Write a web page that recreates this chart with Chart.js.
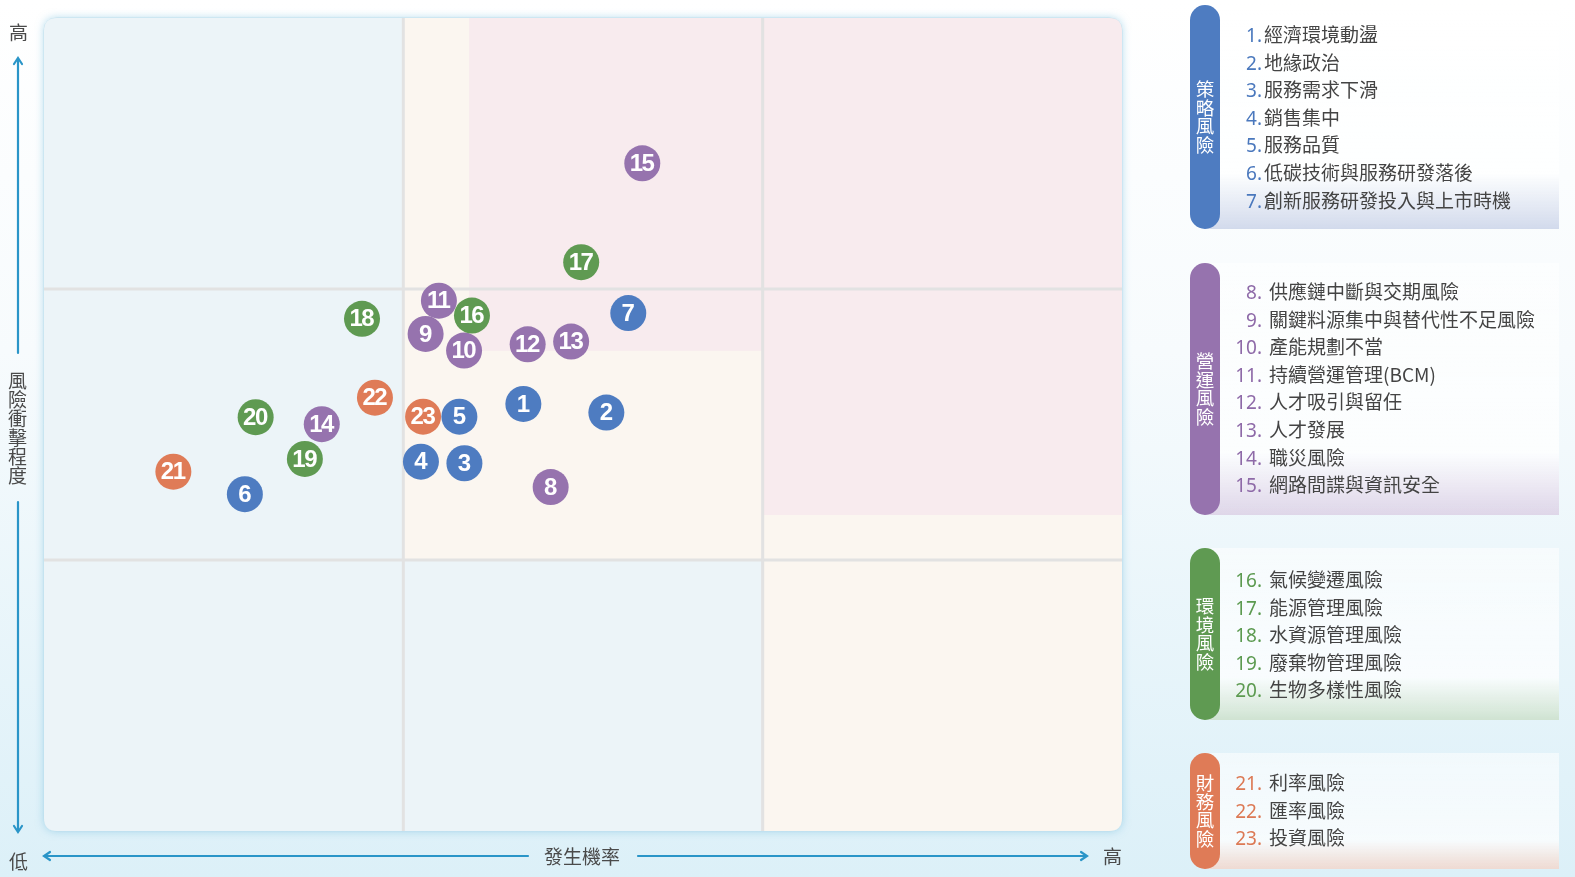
<!DOCTYPE html>
<html>
<head>
<meta charset="utf-8">
<script src="https://cdn.jsdelivr.net/npm/chart.js@4.4.1/dist/chart.umd.min.js"></script>
<style>
html,body{margin:0;padding:0;width:1575px;height:877px;overflow:hidden}
body{position:relative;background:linear-gradient(180deg,#ffffff 0%,#f7fbfd 40%,#dcf0f8 100%);font-family:"Noto Sans CJK TC","Noto Sans",sans-serif;color:#444}
#c{position:absolute;left:0;top:0}
.ax{position:absolute;font-size:19px;color:#4a4a4a;line-height:19px}
.vert{writing-mode:vertical-rl;text-orientation:upright;letter-spacing:0px}
svg{position:absolute;left:0;top:0}
.panel{position:absolute;left:1190px;width:369px}
.panel .bg{position:absolute;left:14px;right:0;top:0;bottom:0}
.panel .pill{position:absolute;left:0;top:0;width:30px;bottom:0;border-radius:15px;display:flex;align-items:center;justify-content:center}
.panel .pill span{writing-mode:vertical-rl;text-orientation:upright;color:#fff;font-size:18.5px;line-height:30px;letter-spacing:0px}
.panel .items{position:absolute;left:38px;font-size:19px;white-space:nowrap}
.panel .row{position:relative;height:27.6px;line-height:27.6px;overflow:visible}
.panel .num{display:inline-block;width:34px;text-align:right;font-family:"Noto Sans","Liberation Sans",sans-serif;font-size:19px}
</style>
</head>
<body>
<canvas id="c" width="1575" height="877"></canvas>

<svg width="1575" height="877">
  <g stroke="#2a95c8" stroke-width="2.2" fill="none" stroke-linecap="round">
    <line x1="18" y1="59" x2="18" y2="353"/>
    <polyline points="14,64 18,58 22,64"/>
    <line x1="18" y1="502" x2="18" y2="831"/>
    <polyline points="14,826 18,832 22,826"/>
    <line x1="45" y1="856" x2="528" y2="856"/>
    <polyline points="50,852 44,856 50,860"/>
    <line x1="638" y1="856" x2="1086" y2="856"/>
    <polyline points="1081,852 1087,856 1081,860"/>
  </g>
</svg>

<div class="ax" style="left:9px;top:22px">高</div>
<div class="ax vert" style="left:8px;top:371px;">風險衝擊程度</div>
<div class="ax" style="left:9px;top:851px">低</div>
<div class="ax" style="left:544px;top:846px">發生機率</div>
<div class="ax" style="left:1103px;top:846px">高</div>

<div id="legend"></div>

<script>
// ---- data ----
const riskIds = [1,2,3,4,5,6,7,8,9,10,11,12,13,14,15,16,17,18,19,20,21,22,23];
const riskNames = [
  '經濟環境動盪','地緣政治','服務需求下滑','銷售集中','服務品質','低碳技術與服務研發落後','創新服務研發投入與上市時機',
  '供應鏈中斷與交期風險','關鍵料源集中與替代性不足風險','產能規劃不當','持續營運管理(BCM)','人才吸引與留任','人才發展','職災風險','網路間諜與資訊安全',
  '氣候變遷風險','能源管理風險','水資源管理風險','廢棄物管理風險','生物多樣性風險',
  '利率風險','匯率風險','投資風險'
];
const riskCategory = [0,0,0,0,0,0,0, 1,1,1,1,1,1,1,1, 2,2,2,2,2, 3,3,3];
const categoryNames = ['策略風險','營運風險','環境風險','財務風險'];
// 發生機率 (x) and 風險衝擊程度 (y), on a 0–3 scale
const probability = [1.334,1.565,1.170,1.049,1.156,0.559,1.626,
                     1.410,1.062,1.169,1.099,1.346,1.467,0.773,1.665,
                     1.191,1.495,0.885,0.726,0.589,
                     0.360,0.921,1.055];
const impact      = [1.576,1.544,1.357,1.363,1.529,1.243,1.911,
                     1.269,1.834,1.773,1.957,1.796,1.806,1.501,2.464,
                     1.902,2.099,1.890,1.373,1.527,
                     1.326,1.599,1.529];

// ---- styles ----
const categoryColors = ['#4e7cc1','#9673ae','#5f9a52','#df7b57'];
const numberColors = ['#4a78bd','#8e6aa8','#5c9a50','#dc7954'];
const zoneBlue = '#ecf4f8', zoneCream = '#fbf6f0', zonePink = '#f8ebee';
const zones = [
  {x0:0, x1:1, y0:0, y1:3, c:zoneBlue},
  {x0:1, x1:2, y0:0, y1:1, c:zoneBlue},
  {x0:1, x1:2, y0:1, y1:3, c:zoneCream},
  {x0:1.183, x1:2, y0:1.772, y1:3, c:zonePink},
  {x0:2, x1:3, y0:0, y1:1.166, c:zoneCream},
  {x0:2, x1:3, y0:1.166, y1:3, c:zonePink}
];
const panelTops = [5,263,548,753];
const panelBottoms = [229,515,720,869];
const panelFirstRow = [15,14,17,15];

// ---- legend ----
const legend = document.getElementById('legend');
categoryNames.forEach((name, ci) => {
  const p = document.createElement('div');
  p.className = 'panel';
  p.style.top = panelTops[ci] + 'px';
  p.style.height = (panelBottoms[ci] - panelTops[ci]) + 'px';
  const tint = ['rgba(205,214,234,0.9)','rgba(220,210,230,0.9)','rgba(205,225,205,0.9)','rgba(240,215,205,0.9)'][ci];
  let html = '<div class="bg" style="background:linear-gradient(180deg,rgba(255,255,255,0.55) 0%,rgba(255,255,255,0.75) 75%,' + tint + ' 100%)"></div>';
  html += '<div class="pill" style="background:' + categoryColors[ci] + '"><span>' + name + '</span></div>';
  html += '<div class="items" style="top:' + panelFirstRow[ci] + 'px">';
  riskIds.forEach((id, i) => {
    if (riskCategory[i] !== ci) return;
    const gap = ci === 0 ? 2 : 7;
    html += '<div class="row"><span class="num" style="color:' + numberColors[ci] + '">' + id + '.</span><span style="margin-left:' + gap + 'px">' + riskNames[i] + '</span></div>';
  });
  html += '</div>';
  p.innerHTML = html;
  legend.appendChild(p);
});

// ---- chart ----
const datasets = categoryNames.map((name, ci) => {
  const pts = [];
  riskIds.forEach((id, i) => {
    if (riskCategory[i] === ci) pts.push({x: probability[i], y: impact[i], id: id});
  });
  return {
    label: name,
    data: pts,
    backgroundColor: categoryColors[ci],
    borderWidth: 0,
    pointRadius: 18,
    pointHoverRadius: 18,
    order: [1,3,2,4][ci]
  };
});

function roundRectPath(ctx, x, y, w, h, r) {
  ctx.beginPath();
  ctx.moveTo(x + r, y);
  ctx.lineTo(x + w - r, y);
  ctx.quadraticCurveTo(x + w, y, x + w, y + r);
  ctx.lineTo(x + w, y + h - r);
  ctx.quadraticCurveTo(x + w, y + h, x + w - r, y + h);
  ctx.lineTo(x + r, y + h);
  ctx.quadraticCurveTo(x, y + h, x, y + h - r);
  ctx.lineTo(x, y + r);
  ctx.quadraticCurveTo(x, y, x + r, y);
  ctx.closePath();
}

const matrixPlugin = {
  id: 'matrix',
  beforeDatasetsDraw(chart) {
    const {ctx, chartArea: a, scales: {x, y}} = chart;
    ctx.save();
    roundRectPath(ctx, a.left, a.top, a.right - a.left, a.bottom - a.top, 13);
    ctx.shadowColor = 'rgba(110,185,220,0.55)';
    ctx.shadowBlur = 9;
    ctx.fillStyle = zoneBlue;
    ctx.fill();
    ctx.shadowColor = 'transparent';
    ctx.strokeStyle = 'rgba(190,222,236,0.9)';
    ctx.lineWidth = 1;
    ctx.stroke();
    roundRectPath(ctx, a.left, a.top, a.right - a.left, a.bottom - a.top, 13);
    ctx.clip();
    zones.forEach(z => {
      const px0 = x.getPixelForValue(z.x0), px1 = x.getPixelForValue(z.x1);
      const py0 = y.getPixelForValue(z.y1), py1 = y.getPixelForValue(z.y0);
      ctx.fillStyle = z.c;
      ctx.fillRect(px0, py0, px1 - px0, py1 - py0);
    });
    ctx.strokeStyle = '#e2e2e2';
    ctx.lineWidth = 3;
    [1, 2].forEach(v => {
      const px = x.getPixelForValue(v);
      ctx.beginPath(); ctx.moveTo(px, a.top); ctx.lineTo(px, a.bottom); ctx.stroke();
      const py = y.getPixelForValue(v);
      ctx.beginPath(); ctx.moveTo(a.left, py); ctx.lineTo(a.right, py); ctx.stroke();
    });
    ctx.restore();
  },
  afterDatasetsDraw(chart) {
    const ctx = chart.ctx;
    ctx.save();
    ctx.fillStyle = '#ffffff';
    ctx.textAlign = 'center';
    ctx.textBaseline = 'middle';
    ctx.font = 'bold 24px "Liberation Sans", Arial, sans-serif';
    chart.data.datasets.forEach((ds, di) => {
      const meta = chart.getDatasetMeta(di);
      meta.data.forEach((el, j) => {
        const label = String(ds.data[j].id);
        if ('letterSpacing' in ctx) ctx.letterSpacing = label.length > 1 ? '-1.5px' : '0px';
        ctx.fillText(label, el.x + (label.length > 1 ? -0.7 : 0), el.y + 1);
      });
    });
    ctx.restore();
  }
};

new Chart(document.getElementById('c'), {
  type: 'scatter',
  data: { datasets: datasets },
  options: {
    responsive: false,
    animation: false,
    events: [],
    layout: { autoPadding: false, padding: { left: 44, top: 18, right: 453, bottom: 46 } },
    scales: {
      x: { type: 'linear', min: 0, max: 3, display: false },
      y: { type: 'linear', min: 0, max: 3, display: false }
    },
    plugins: { legend: { display: false }, tooltip: { enabled: false } }
  },
  plugins: [matrixPlugin]
});
</script>
</body>
</html>
